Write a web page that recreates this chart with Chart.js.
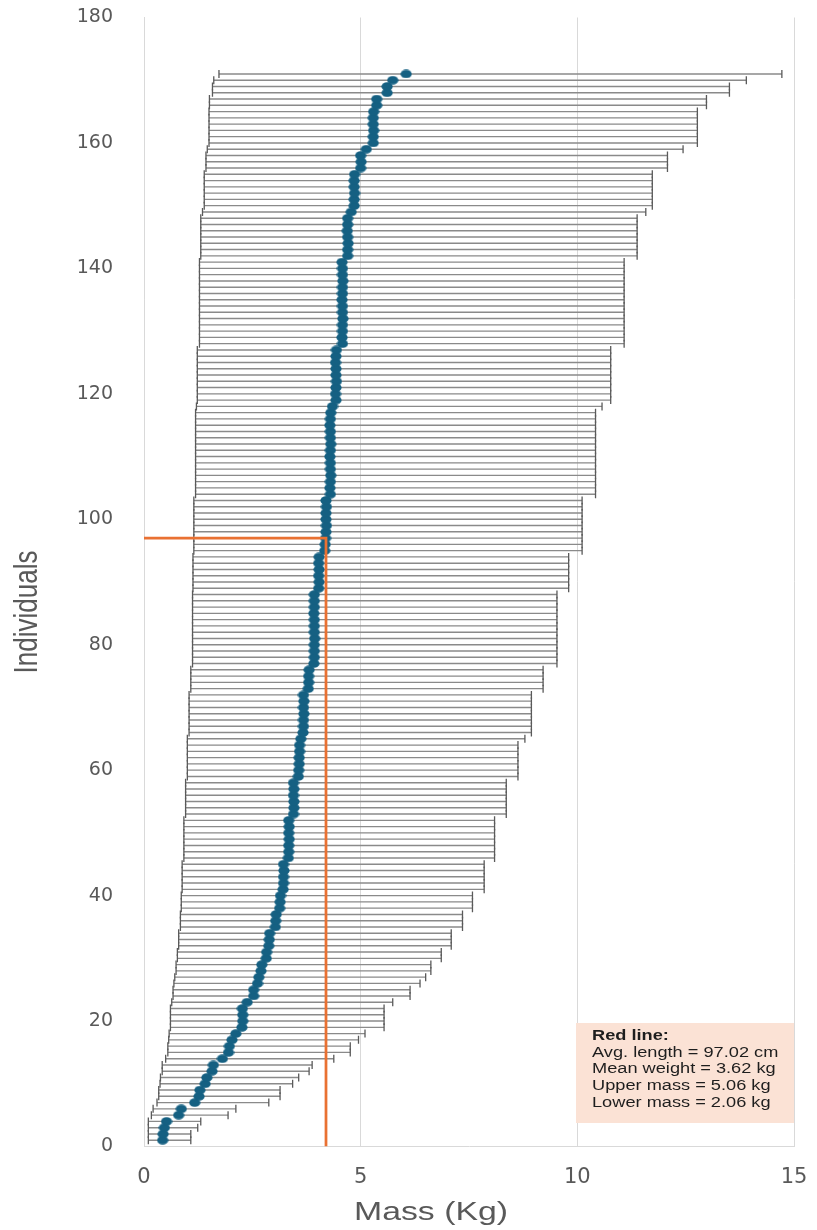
<!DOCTYPE html>
<html>
<head>
<meta charset="utf-8">
<style>
html,body{margin:0;padding:0;background:#ffffff;}
#wrap{width:817px;height:1230px;position:relative;}
</style>
<script src="https://cdn.jsdelivr.net/npm/chart.js@4/dist/chart.umd.min.js"></script>
</head>
<body>
<div id="wrap"><canvas id="c" width="817" height="1230"></canvas></div>
<script>
// ---- Data ----
const mass = [
0.43,0.44,0.47,0.52,0.80,0.86,1.17,1.27,1.29,1.41,
1.45,1.57,1.60,1.81,1.95,1.97,2.03,2.12,2.26,2.28,
2.28,2.27,2.38,2.53,2.53,2.62,2.65,2.70,2.72,2.82,
2.83,2.88,2.89,2.90,3.03,3.04,3.05,3.13,3.14,3.15,
3.21,3.22,3.22,3.23,3.22,3.33,3.34,3.34,3.35,3.34,
3.35,3.34,3.45,3.46,3.46,3.45,3.46,3.45,3.56,3.57,
3.58,3.58,3.59,3.59,3.62,3.67,3.68,3.68,3.69,3.68,
3.69,3.68,3.79,3.80,3.80,3.81,3.92,3.93,3.93,3.93,
3.94,3.93,3.93,3.93,3.92,3.93,3.93,3.93,4.03,4.04,
4.03,4.04,4.03,4.04,4.17,4.18,4.19,4.20,4.21,4.20,
4.20,4.21,4.20,4.30,4.29,4.30,4.31,4.30,4.30,4.29,
4.30,4.31,4.30,4.30,4.29,4.30,4.31,4.35,4.43,4.42,
4.43,4.44,4.43,4.43,4.42,4.43,4.44,4.58,4.57,4.58,
4.58,4.59,4.58,4.58,4.57,4.58,4.58,4.59,4.58,4.58,
4.57,4.70,4.70,4.71,4.70,4.69,4.70,4.70,4.78,4.85,
4.85,4.86,4.85,4.85,4.86,5.00,5.01,5.00,5.13,5.29,
5.29,5.30,5.29,5.29,5.30,5.37,5.37,5.61,5.61,5.74,
6.05
];
const lowerMass = [
0.10,0.10,0.10,0.10,0.17,0.21,0.30,0.34,0.34,0.37,
0.38,0.42,0.42,0.50,0.55,0.55,0.57,0.58,0.61,0.61,
0.61,0.61,0.64,0.67,0.67,0.69,0.71,0.74,0.74,0.77,
0.77,0.80,0.80,0.80,0.84,0.84,0.84,0.86,0.86,0.86,
0.88,0.88,0.88,0.88,0.88,0.92,0.92,0.92,0.92,0.92,
0.92,0.92,0.96,0.96,0.96,0.96,0.96,0.96,1.00,1.00,
1.00,1.00,1.00,1.00,1.00,1.04,1.04,1.04,1.04,1.04,
1.04,1.04,1.08,1.08,1.08,1.08,1.12,1.12,1.12,1.12,
1.12,1.12,1.12,1.12,1.12,1.12,1.12,1.12,1.13,1.13,
1.13,1.13,1.13,1.13,1.15,1.15,1.15,1.15,1.15,1.15,
1.15,1.15,1.15,1.19,1.19,1.19,1.19,1.19,1.19,1.19,
1.19,1.19,1.19,1.19,1.19,1.19,1.19,1.21,1.23,1.23,
1.23,1.23,1.23,1.23,1.23,1.23,1.23,1.28,1.28,1.28,
1.28,1.28,1.28,1.28,1.28,1.28,1.28,1.28,1.28,1.28,
1.28,1.31,1.31,1.31,1.31,1.31,1.31,1.31,1.35,1.39,
1.39,1.39,1.39,1.39,1.39,1.43,1.43,1.43,1.46,1.50,
1.50,1.50,1.50,1.50,1.50,1.51,1.51,1.58,1.58,1.61,
1.73
];
const upperMass = [
1.08,1.08,1.24,1.31,1.94,2.12,2.88,3.14,3.14,3.43,
3.57,3.81,3.88,4.38,4.76,4.76,4.95,5.10,5.54,5.54,
5.54,5.54,5.74,6.14,6.14,6.37,6.50,6.62,6.62,6.86,
6.86,7.09,7.09,7.09,7.35,7.35,7.35,7.58,7.58,7.58,
7.85,7.85,7.85,7.85,7.85,8.09,8.09,8.09,8.09,8.09,
8.09,8.09,8.36,8.36,8.36,8.36,8.36,8.36,8.63,8.63,
8.63,8.63,8.63,8.63,8.79,8.94,8.94,8.94,8.94,8.94,
8.94,8.94,9.21,9.21,9.21,9.21,9.53,9.53,9.53,9.53,
9.53,9.53,9.53,9.53,9.53,9.53,9.53,9.53,9.80,9.80,
9.80,9.80,9.80,9.80,10.11,10.11,10.11,10.11,10.11,10.11,
10.11,10.11,10.11,10.42,10.42,10.42,10.42,10.42,10.42,10.42,
10.42,10.42,10.42,10.42,10.42,10.42,10.42,10.57,10.77,10.77,
10.77,10.77,10.77,10.77,10.77,10.77,10.77,11.08,11.08,11.08,
11.08,11.08,11.08,11.08,11.08,11.08,11.08,11.08,11.08,11.08,
11.08,11.38,11.38,11.38,11.38,11.38,11.38,11.38,11.58,11.73,
11.73,11.73,11.73,11.73,11.73,12.08,12.08,12.08,12.44,12.77,
12.77,12.77,12.77,12.77,12.77,12.98,12.98,13.51,13.51,13.90,
14.72
];
const individuals = mass.map((_, i) => i + 1);   // individual index 1..171
const redLineX = [0, 4.2, 4.2];
const redLineY = [97, 97, 0];
const xTicks = [0, 5, 10, 15];
const yTicks = [0, 20, 40, 60, 80, 100, 120, 140, 160, 180];
const xTitle = 'Mass (Kg)';
const yTitle = 'Individuals';
const noteLines = ['Red line:', 'Avg. length = 97.02 cm', 'Mean weight = 3.62 kg', 'Upper mass = 5.06 kg', 'Lower mass = 2.06 kg'];

// ---- Styles ----
const DOT = '#156082';
const ORANGE = '#E97132';
const GRID = '#d9d9d9';
const TXT = '#595959';
const SX = 1.3; // horizontal stretch seen in the reference

// elliptical marker
const dotImg = document.createElement('canvas');
dotImg.width = 12; dotImg.height = 9;
(function(){
  const g = dotImg.getContext('2d');
  g.fillStyle = DOT;
  g.beginPath();
  g.ellipse(6, 4.5, 5.6, 4.3, 0, 0, Math.PI * 2);
  g.fill();
})();

const errorBars = {
  id: 'errorBars',
  beforeDatasetsDraw(chart) {
    const {ctx, scales: {x, y}} = chart;
    ctx.save();
    for (let i = 0; i < individuals.length; i++) {
      const py = y.getPixelForValue(individuals[i]);
      const x1 = x.getPixelForValue(lowerMass[i]);
      const x2 = x.getPixelForValue(upperMass[i]);
      ctx.strokeStyle = '#8a8a8a';
      ctx.lineWidth = 1.4;
      ctx.beginPath(); ctx.moveTo(x1, py); ctx.lineTo(x2, py); ctx.stroke();
      ctx.strokeStyle = '#5a5a5a';
      ctx.lineWidth = 1.3;
      ctx.beginPath();
      ctx.moveTo(x1, py - 4); ctx.lineTo(x1, py + 4);
      ctx.moveTo(x2, py - 4); ctx.lineTo(x2, py + 4);
      ctx.stroke();
    }
    ctx.restore();
  }
};

function sText(ctx, text, x, y, align, rot) {
  ctx.save();
  ctx.translate(x, y);
  ctx.scale(SX, 1);
  if (rot) ctx.rotate(rot);
  ctx.textAlign = align;
  ctx.textBaseline = 'middle';
  ctx.fillText(text, 0, 0);
  ctx.restore();
}

const overlay = {
  id: 'overlay',
  afterDraw(chart) {
    const {ctx, chartArea: ca} = chart;
    ctx.save();
    // axis titles
    ctx.fillStyle = TXT;
    ctx.font = '26px "Liberation Sans", Arial, sans-serif';
    sText(ctx, xTitle, 431, 1213, 'center', 0);
    sText(ctx, yTitle, 28, 612, 'center', -Math.PI / 2);
    // note box
    const bx = 576, by = 1023, bw = ca.right - 576, bh = 100;
    ctx.fillStyle = '#FBE2D5';
    ctx.fillRect(bx, by, bw, bh);
    ctx.fillStyle = '#1e1e1e';
    noteLines.forEach((t, k) => {
      ctx.font = (k === 0 ? 'bold ' : '') + '14px "Liberation Sans", Arial, sans-serif';
      sText(ctx, t, 592, 1036 + k * 16.8, 'left', 0);
    });
    ctx.restore();
  }
};

function noPad(s) { s.paddingTop = 0; s.paddingBottom = 0; s.paddingLeft = 0; s.paddingRight = 0; }

new Chart(document.getElementById('c'), {
  type: 'scatter',
  data: {
    datasets: [
      {
        type: 'line',
        label: 'Red line',
        data: redLineX.map((v, i) => ({x: v, y: redLineY[i]})),
        borderColor: ORANGE,
        borderWidth: 2.75,
        pointRadius: 0,
        fill: false,
        tension: 0,
        order: 0
      },
      {
        label: 'Mass',
        data: individuals.map((n, i) => ({x: mass[i], y: n})),
        pointStyle: dotImg,
        pointRadius: 5,
        backgroundColor: DOT,
        borderWidth: 0,
        order: 1
      }
    ]
  },
  options: {
    responsive: false,
    animation: false,
    devicePixelRatio: 1,
    layout: {padding: {top: 17.5, right: 23, bottom: 0, left: 0}},
    plugins: {legend: {display: false}, tooltip: {enabled: false}},
    scales: {
      x: {
        type: 'linear', min: 0, max: 15,
        afterBuildTicks(s) { s.ticks = xTicks.map(v => ({value: v})); },
        ticks: {font: {family: 'DejaVu Sans', size: 21}, color: TXT, padding: 18, maxRotation: 0},
        grid: {color: GRID, lineWidth: 1, drawTicks: false},
        border: {display: true, color: GRID, width: 1},
        afterFit(s) { s.height = 83.5; noPad(s); }
      },
      y: {
        type: 'linear', min: 0, max: 180,
        afterBuildTicks(s) { s.ticks = yTicks.map(v => ({value: v})); },
        ticks: {font: {family: 'DejaVu Sans', size: 19}, color: TXT, padding: 31},
        grid: {display: false, drawTicks: false},
        border: {display: true, color: GRID, width: 1},
        afterFit(s) { s.width = 144; noPad(s); }
      }
    }
  },
  plugins: [errorBars, overlay]
});
</script>
</body>
</html>
